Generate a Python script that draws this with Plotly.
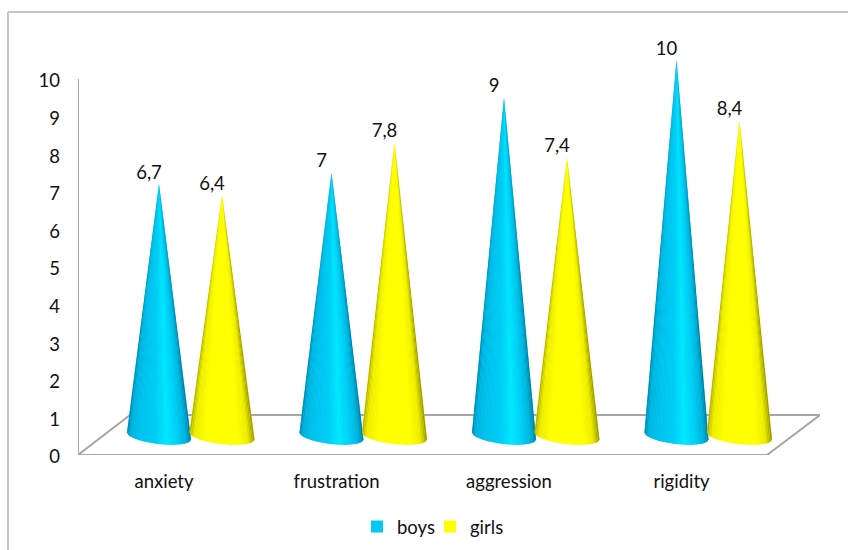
import plotly.graph_objects as go

categories = ["anxiety", "frustration", "aggression", "rigidity"]
boys = [6.7, 7, 9, 10]
girls = [6.4, 7.8, 7.4, 8.4]
y_ticks = list(range(0, 11))

# pixel calibration of the plot area
L, R, T, B = 78, 820, 20, 455
PX_X = 172.5
PX_Y = 37.6
X0 = (L - 164) / PX_X
X1 = (R - 164) / PX_X
dx = lambda p: p / PX_X
dy = lambda p: p / PX_Y
LIFT = dy(19)
FONT = 18.5

BOY_STOPS = [(-1, (0, 135, 175)), (-0.88, (0, 178, 220)), (-0.6, (0, 192, 238)), (-0.1, (0, 205, 245)),
             (0.25, (0, 235, 255)), (0.6, (0, 205, 245)), (0.85, (0, 175, 215)), (1, (0, 125, 160))]
GIRL_STOPS = [(-1, (175, 175, 0)), (-0.85, (235, 235, 0)), (-0.5, (255, 255, 0)), (0.5, (255, 255, 0)),
              (0.8, (235, 235, 0)), (1, (150, 150, 0))]


def shade(stops, u):
    for (a, ca), (b, cb) in zip(stops, stops[1:]):
        if u <= b:
            t = (u - a) / (b - a)
            c = [round(p + (q - p) * t) for p, q in zip(ca, cb)]
            return f"rgb({c[0]},{c[1]},{c[2]})"
    c = stops[-1][1]
    return f"rgb({c[0]},{c[1]},{c[2]})"


fig = go.Figure()

# floor outline and value axis line
fig.add_trace(go.Scatter(
    x=[X0, X0 + dx(689), X0 + dx(742), X0 + dx(52), X0, None, X0, X0],
    y=[0, 0, dy(40), dy(40), 0, None, 0, y_ticks[-1]],
    mode="lines", line=dict(color="#a6a6a6", width=2),
    hoverinfo="skip", showlegend=False, cliponaxis=False))


def cone(cx, value, stops, hw_px):
    n = 44
    hw, b, tilt = dx(hw_px), dy(8), dy(3.5)
    base = lambda u: (cx + hw * u, LIFT - b * max(0, 1 - u * u) ** 0.5 - tilt * u)
    arc = [base(-1 + 2 * i / n) for i in range(n + 1)]
    under = shade(stops, 0)
    fig.add_trace(go.Scatter(
        x=[cx] + [p[0] for p in arc] + [cx], y=[value + LIFT] + [p[1] for p in arc] + [value + LIFT],
        mode="lines", fill="toself", fillcolor=under, line=dict(color=under, width=0),
        hoverinfo="skip", showlegend=False, cliponaxis=False))
    for i in range(n):
        u0, u1 = -1 + 2 * i / n, -1 + 2 * (i + 1) / n
        p0, p1 = arc[i], arc[i + 1]
        col = shade(stops, (u0 + u1) / 2)
        fig.add_trace(go.Scatter(
            x=[cx, p0[0], p1[0], cx], y=[value + LIFT, p0[1], p1[1], value + LIFT],
            mode="lines", fill="toself", fillcolor=col, line=dict(color=col, width=0),
            hoverinfo="skip", showlegend=False, cliponaxis=False))


for i in range(len(categories)):
    cone(i + dx(-5), boys[i], BOY_STOPS, 32)
    cone(i + dx(58), girls[i], GIRL_STOPS, 32.5)

# data labels
for values, off in ((boys, -5), (girls, 58)):
    fig.add_trace(go.Scatter(
        x=[i + dx(off - 10) for i in range(len(values))],
        y=[v + LIFT + dy(10) for v in values],
        text=[str(v).replace(".", ",") for v in values],
        mode="text", textposition="middle center",
        textfont=dict(family="Lato", size=FONT, color="#111111"),
        hoverinfo="skip", showlegend=False, cliponaxis=False))

# legend entries
for name, col in (("boys", "#00c8f5"), ("girls", "#ffff00")):
    fig.add_trace(go.Scatter(
        x=[None], y=[None], name=name, mode="markers",
        marker=dict(symbol="square", size=12, color=col)))

fig.update_layout(
    width=848, height=550, autosize=False,
    margin=dict(l=L, r=848 - R, t=T, b=550 - B, pad=0, autoexpand=False),
    paper_bgcolor="white", plot_bgcolor="white",
    font=dict(family="Lato", size=FONT, color="#111111"),
    xaxis=dict(range=[X0, X1], tickvals=list(range(len(categories))), ticktext=categories,
               showgrid=False, zeroline=False, showline=False, ticks="", ticklabelstandoff=13),
    yaxis=dict(range=[0, (B - T) / PX_Y], tickvals=y_ticks, showgrid=False, zeroline=False,
               showline=False, ticks="", ticklabelstandoff=17, ticklabelshift=2),
    legend=dict(orientation="h", x=(430 - L) / (R - L), xanchor="center",
                y=(B - 527) / (B - T), yanchor="middle", font=dict(size=FONT),
                entrywidth=28, entrywidthmode="pixels",
                itemclick=False, itemdoubleclick=False, bgcolor="rgba(0,0,0,0)"),
    shapes=[
        dict(type="line", xref="paper", yref="paper",
             x0=(8 - L) / (R - L), x1=(8 - L) / (R - L), y0=(B - 12) / (B - T), y1=(B - 550) / (B - T),
             line=dict(color="#c4c4c4", width=2)),
        dict(type="line", xref="paper", yref="paper",
             x0=(8 - L) / (R - L), x1=(848 - L) / (R - L), y0=(B - 12) / (B - T), y1=(B - 12) / (B - T),
             line=dict(color="#c4c4c4", width=2)),
    ],
)

fig.write_html("out.html", config=dict(displayModeBar=False),
               post_script="document.body.style.margin='0';document.documentElement.style.overflow='hidden';")
